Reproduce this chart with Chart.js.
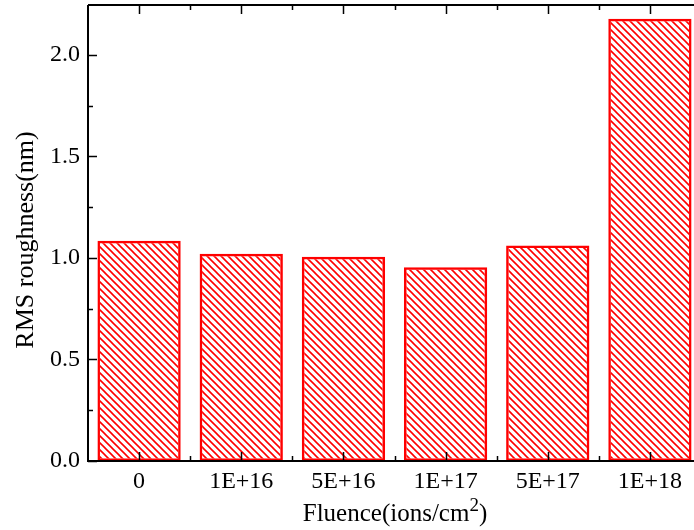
<!DOCTYPE html>
<html>
<head>
<meta charset="utf-8">
<script src="https://cdn.jsdelivr.net/npm/chart.js@4.4.1/dist/chart.umd.min.js"></script>
<style>
  html, body { margin: 0; padding: 0; background: #fff; overflow: hidden; }
  #wrap { width: 694px; height: 530px; overflow: hidden; }
  #grafico { display: block; }
</style>
</head>
<body>
<div id="wrap"><canvas id="grafico" width="702" height="530"></canvas></div>
<script>
// Rugosidade RMS em função da fluência
const fluencias   = ["0", "1E+16", "5E+16", "1E+17", "5E+17", "1E+18"];
const rugosidade  = [1.084, 1.020, 1.006, 0.954, 1.061, 2.177];
const yTicks      = [0, 0.5, 1.0, 1.5, 2.0];
const yMinorTicks = [0.25, 0.75, 1.25, 1.75];
const yMax        = 2.245;

const FONTE = "'Liberation Serif', 'Times New Roman', serif";
const VERMELHO = "#ff0000";

// Hachura diagonal "\\\" usada no preenchimento das barras
function criarHachura() {
  const t = 7;
  const c = document.createElement("canvas");
  c.width = t; c.height = t;
  const g = c.getContext("2d");
  g.strokeStyle = VERMELHO;
  g.lineWidth = 1.6;
  g.beginPath();
  g.moveTo(-1, -1); g.lineTo(t + 1, t + 1);
  g.moveTo(t - 1, -1); g.lineTo(t + 1, 1);
  g.moveTo(-1, t - 1); g.lineTo(1, t + 1);
  g.stroke();
  return g.createPattern(c, "repeat");
}

// Moldura, ticks para dentro e títulos dos eixos
const molduraPlugin = {
  id: "moldura",
  afterDraw(chart) {
    const { ctx, chartArea: a, scales } = chart;
    const x = scales.x, y = scales.y;
    ctx.save();
    ctx.strokeStyle = "#000";
    ctx.lineWidth = 2;
    ctx.beginPath();
    ctx.moveTo(a.left, a.top); ctx.lineTo(a.right, a.top);
    ctx.moveTo(a.left, a.top); ctx.lineTo(a.left, a.bottom + 1);
    ctx.moveTo(a.left - 1, a.bottom); ctx.lineTo(a.right, a.bottom);
    ctx.moveTo(a.right, a.top); ctx.lineTo(a.right, a.bottom);
    ctx.stroke();

    ctx.lineWidth = 1.5;
    ctx.beginPath();
    // eixo y: principais e secundários
    yTicks.forEach(v => {
      const py = Math.round(y.getPixelForValue(v)) + 0.5;
      ctx.moveTo(a.left, py); ctx.lineTo(a.left + 9, py);
    });
    yMinorTicks.forEach(v => {
      const py = Math.round(y.getPixelForValue(v)) + 0.5;
      ctx.moveTo(a.left, py); ctx.lineTo(a.left + 5, py);
    });
    // eixo x: centro das categorias e divisões
    fluencias.forEach((f, i) => {
      const px = Math.round(x.getPixelForValue(i)) + 0.5;
      ctx.moveTo(px, a.bottom); ctx.lineTo(px, a.bottom - 9);
      ctx.moveTo(px, a.top); ctx.lineTo(px, a.top + 9);
      if (i > 0) {
        const pm = Math.round(x.getPixelForValue(i - 0.5)) + 0.5;
        ctx.moveTo(pm, a.bottom); ctx.lineTo(pm, a.bottom - 5);
        ctx.moveTo(pm, a.top); ctx.lineTo(pm, a.top + 5);
      }
    });
    ctx.stroke();

    // título do eixo y
    ctx.fillStyle = "#000";
    ctx.font = "26px " + FONTE;
    ctx.save();
    ctx.translate(33, 240);
    ctx.rotate(-Math.PI / 2);
    ctx.textAlign = "center";
    ctx.textBaseline = "alphabetic";
    ctx.fillText("RMS roughness(nm)", 0, 0);
    ctx.restore();

    // título do eixo x com expoente
    const base = "Fluence(ions/cm", sup = "2", fim = ")";
    ctx.textAlign = "left";
    ctx.textBaseline = "alphabetic";
    ctx.font = "25px " + FONTE;
    const wb = ctx.measureText(base).width;
    const wf = ctx.measureText(fim).width;
    ctx.font = "19px " + FONTE;
    const ws = ctx.measureText(sup).width;
    let px = 395 - (wb + ws + wf) / 2;
    ctx.font = "25px " + FONTE;
    ctx.fillText(base, px, 521);
    px += wb;
    ctx.font = "19px " + FONTE;
    ctx.fillText(sup, px, 511);
    px += ws;
    ctx.font = "25px " + FONTE;
    ctx.fillText(fim, px, 521);
    ctx.restore();
  }
};

new Chart(document.getElementById("grafico"), {
  type: "bar",
  data: {
    labels: fluencias,
    datasets: [{
      data: rugosidade,
      backgroundColor: criarHachura(),
      borderColor: VERMELHO,
      borderWidth: 2.5,
      borderSkipped: false,
      categoryPercentage: 1,
      barPercentage: 0.815
    }]
  },
  options: {
    responsive: false,
    animation: false,
    layout: { padding: { top: 5, right: 1, left: 0, bottom: 0 } },
    plugins: {
      legend: { display: false },
      tooltip: { enabled: false }
    },
    scales: {
      x: {
        grid: { display: false, drawTicks: false },
        border: { display: false },
        ticks: {
          color: "#000",
          font: { family: FONTE, size: 24 },
          padding: 6,
          maxRotation: 0
        },
        afterFit: s => {
          s.height = 69;
          s.paddingLeft = 0;
          s.paddingRight = 0;
        }
      },
      y: {
        min: 0,
        max: yMax,
        grid: { display: false, drawTicks: false },
        border: { display: false },
        afterBuildTicks: s => { s.ticks = yTicks.map(v => ({ value: v })); },
        ticks: {
          color: "#000",
          font: { family: FONTE, size: 24 },
          padding: 8,
          callback: v => Number(v).toFixed(1)
        },
        afterFit: s => {
          s.width = 88;
          s.paddingTop = 0;
          s.paddingBottom = 0;
        }
      }
    }
  },
  plugins: [molduraPlugin]
});
</script>
</body>
</html>
